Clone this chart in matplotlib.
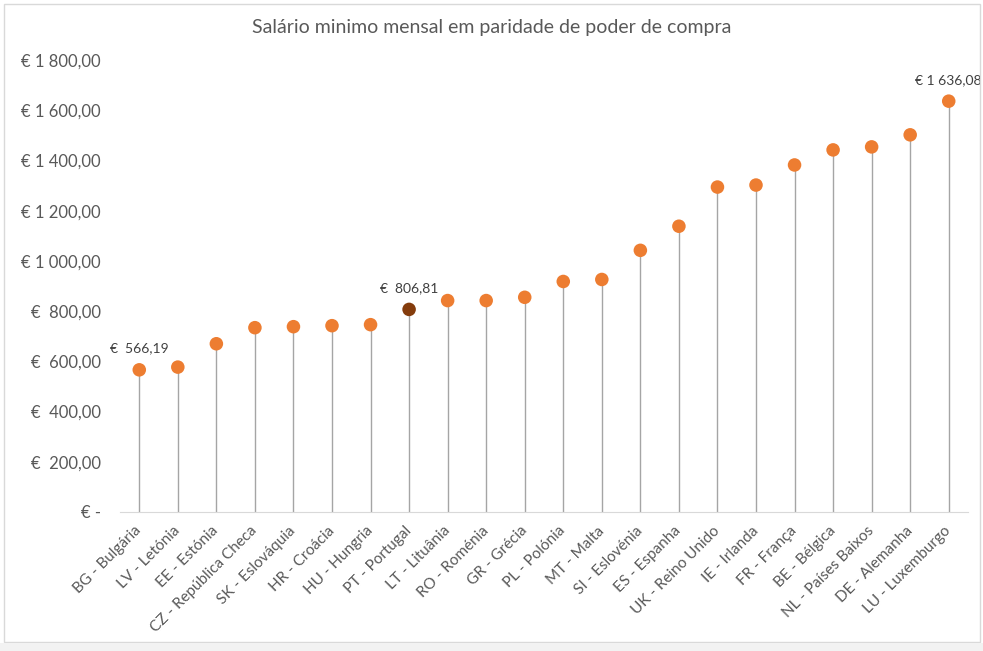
import matplotlib.pyplot as plt
import matplotlib.patches as mpatches

plt.rcParams['font.family'] = ['Lato', 'DejaVu Sans']

paises = ['BG - Bulgária', 'LV - Letónia', 'EE - Estónia', 'CZ - República Checa',
          'SK - Eslováquia', 'HR - Croácia', 'HU - Hungria', 'PT - Portugal',
          'LT - Lituânia', 'RO - Roménia', 'GR - Grécia', 'PL - Polónia',
          'MT - Malta', 'SI - Eslovénia', 'ES - Espanha', 'UK - Reino Unido',
          'IE - Irlanda', 'FR - França', 'BE - Bélgica', 'NL - Países Baixos',
          'DE - Alemanha', 'LU - Luxemburgo']
salario = [566.19, 577, 670, 734, 738, 742, 746, 806.81, 842, 842, 855, 918,
           926, 1042, 1138, 1294, 1302, 1382, 1442, 1454, 1502, 1636.08]
rotulados = ['BG - Bulgária', 'PT - Portugal', 'LU - Luxemburgo']
destaque = 'PT - Portugal'
yticks = [0, 200, 400, 600, 800, 1000, 1200, 1400, 1600, 1800]


def euro(v):
    if v == 0:
        return '€ -'
    inteiro = int(v)
    dec = round((v - inteiro) * 100)
    s = f'{inteiro:,}'.replace(',', ' ')
    if inteiro < 1000:
        s = ' ' + s
    return f'€ {s},{dec:02d}'


fig = plt.figure(figsize=(9.83, 6.51), dpi=100)
ax = fig.add_axes([120/983, 139/651, 848/983, 452/651])

x = list(range(len(paises)))
ax.vlines(x, 0, salario, color='#A5A5A5', lw=1, zorder=1)
cores = ['#843C0C' if p == destaque else '#ED7D31' for p in paises]
ax.scatter(x, salario, s=95, c=cores, zorder=2, linewidths=0)

for i, p in enumerate(paises):
    if p in rotulados:
        ax.annotate(euro(salario[i]), (i, salario[i]), xytext=(0, 11),
                    textcoords='offset points', ha='center', va='bottom',
                    fontsize=10, color='#404040')

ax.set_xlim(-0.5, len(paises) - 0.5)
ax.set_ylim(0, 1800)
ax.set_yticks(yticks)
ax.set_yticklabels([euro(v) for v in yticks])
ax.set_xticks(x)
ax.set_xticklabels(paises, rotation=45, ha='right', va='center',
                   rotation_mode='anchor')
ax.tick_params(axis='y', length=0, pad=14, labelsize=12, labelcolor='#595959')
ax.tick_params(axis='x', length=0, pad=12, labelsize=11, labelcolor='#595959')
for s in ['top', 'right', 'left']:
    ax.spines[s].set_visible(False)
ax.spines['bottom'].set_color('#D9D9D9')

fig.text(0.5, 1 - 28/651, 'Salário minimo mensal em paridade de poder de compra',
         fontsize=14, color='#595959', ha='center', va='center')

fig.patches.append(mpatches.Rectangle((4/983, 9/651), 976/983, 638/651,
                                      transform=fig.transFigure, fill=False,
                                      edgecolor='#D9D9D9', lw=1))
fig.patches.append(mpatches.Rectangle((0, 0), 1, 8/651,
                                      transform=fig.transFigure,
                                      facecolor='#F2F2F2', edgecolor='none'))

fig.savefig('out.png', dpi=100)
